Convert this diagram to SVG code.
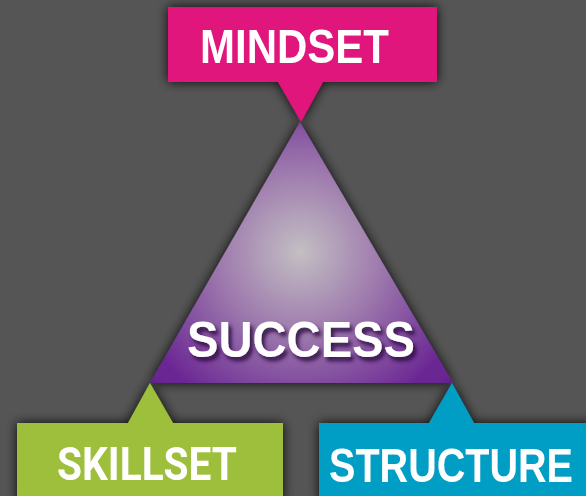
<svg xmlns="http://www.w3.org/2000/svg" width="586" height="496" viewBox="0 0 586 496">
<defs>
<filter id="shadow" x="-20%" y="-20%" width="140%" height="140%">
<feGaussianBlur in="SourceAlpha" stdDeviation="6"/>
<feComponentTransfer><feFuncA type="linear" slope="0.9"/></feComponentTransfer>
<feMerge><feMergeNode/><feMergeNode in="SourceGraphic"/></feMerge>
</filter>
<filter id="tshadow" x="-10%" y="-20%" width="130%" height="160%">
<feGaussianBlur in="SourceAlpha" stdDeviation="2"/>
<feOffset dx="3" dy="4" result="b"/>
<feFlood flood-color="#2a0a3f" flood-opacity="0.9"/>
<feComposite in2="b" operator="in"/>
<feMerge><feMergeNode/><feMergeNode in="SourceGraphic"/></feMerge>
</filter>
<radialGradient id="purple" gradientUnits="userSpaceOnUse" cx="300" cy="252" r="175">
<stop offset="0" stop-color="#c3bfc3"/>
<stop offset="0.45" stop-color="#9f7cae"/>
<stop offset="1" stop-color="#6a2693"/>
</radialGradient>
</defs>
<style>
.lbl{font-family:"Liberation Sans",Arial,sans-serif;font-weight:bold;fill:#fff;text-anchor:middle}
</style>
<rect width="586" height="496" fill="#555555"/>
<g id="connectors"></g>
<g id="success">
<polygon points="300,122 150,383 453,383" fill="url(#purple)" filter="url(#shadow)"/>
<text class="lbl" x="301" y="357" font-size="50" textLength="228" lengthAdjust="spacingAndGlyphs" filter="url(#tshadow)">SUCCESS</text>
</g>
<g id="mindset" filter="url(#shadow)">
<rect x="168" y="7" width="269" height="75" fill="#e0127c"/>
<polygon points="278,82 323,82 301,122" fill="#e0127c"/>
<text class="lbl" x="294.5" y="63" font-size="49" textLength="189" lengthAdjust="spacingAndGlyphs">MINDSET</text>
</g>
<g id="skillset" filter="url(#shadow)">
<polygon points="150,383 128,423 173,423" fill="#9ebf3a"/>
<rect x="17" y="423" width="266" height="80" fill="#9ebf3a"/>
<text class="lbl" x="147" y="480" font-size="46" textLength="180" lengthAdjust="spacingAndGlyphs" style="font-family:Roboto,'Liberation Sans',sans-serif">SKILLSET</text>
</g>
<g id="structure" filter="url(#shadow)">
<polygon points="452,383 429,423 474,423" fill="#049ec4"/>
<rect x="319" y="423" width="275" height="80" fill="#049ec4"/>
<text class="lbl" x="451" y="482" font-size="49" textLength="244" lengthAdjust="spacingAndGlyphs">STRUCTURE</text>
</g>
</svg>
